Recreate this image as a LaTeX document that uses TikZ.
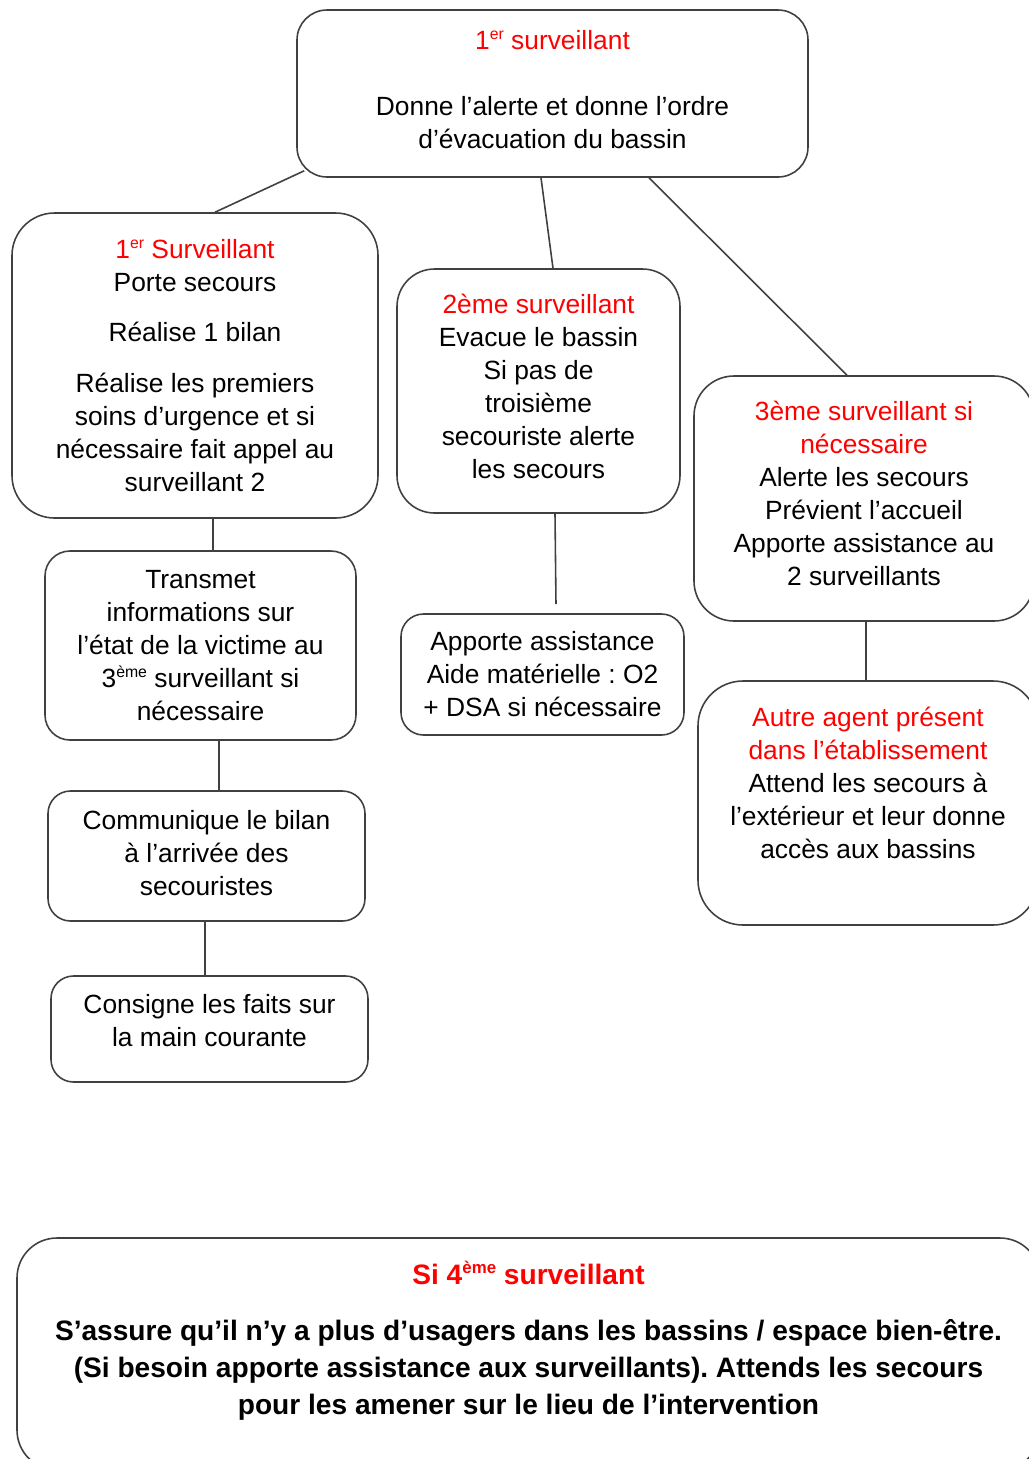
\documentclass[tikz,border=0pt]{standalone}
\usepackage{fontspec}
\setmainfont{Liberation Sans}
\usepackage{xcolor}
\usepackage{graphicx}
\usepackage{tikz}
\newcommand{\expo}[1]{\raisebox{0.38em}{\scalebox{0.6}{#1}}}
\frenchspacing

\begin{document}
\begin{tikzpicture}[x=0.2mm, y=-0.2mm,
  box/.style={draw=black!75, line width=0.9pt, rounded corners=7.5mm, align=center, inner sep=0pt,
    font=\fontsize{15pt}{18.8pt}\selectfont},
  smallbox/.style={box, rounded corners=4.5mm},
  boxsize/.style 2 args={minimum width=#1*0.2mm, minimum height=#2*0.2mm},
  link/.style={draw=black!75, line width=0.9pt}]
\useasboundingbox (0,0) rectangle (1029,1459);
\clip (0,0) rectangle (1029,1459);

\node[box, rounded corners=6mm, boxsize={511}{167}] (alerte) at (552.5,93.5)
  {\textcolor{red}{1\expo{er} surveillant}\\[18.8pt]Donne l’alerte et donne l’ordre\\d’évacuation du bassin\\[-14.3pt]~};

\node[box, rounded corners=8.5mm, boxsize={366}{305}] (porte) at (195,365.5)
  {\textcolor{red}{1\expo{er} Surveillant}\\Porte secours\\[10pt]Réalise 1 bilan\\[10pt]Réalise les premiers\\soins d’urgence et si\\nécessaire fait appel au\\surveillant 2};
\node[box, boxsize={283}{244}] (evacue) at (538.5,391)
  {\textcolor{red}{2ème surveillant}\\Evacue le bassin\\Si pas de\\troisième\\secouriste alerte\\les secours\\[-13.1pt]~};
\node[box, rounded corners=8mm, boxsize={340}{245}] (alerte3) at (864,498.5)
  {\textcolor{red}{3ème surveillant si}\\\textcolor{red}{nécessaire}\\Alerte les secours\\Prévient l’accueil\\Apporte assistance au\\2 surveillants\\[-12.5pt]~};

\node[smallbox, rounded corners=5mm, boxsize={311}{189}] (transmet) at (200.5,645.5)
  {Transmet\\informations sur\\l’état de la victime au\\3\expo{ème} surveillant si\\nécessaire};
\node[smallbox, boxsize={283}{121}] (assist) at (542.5,674.5)
  {Apporte assistance\\Aide matérielle : O2\\+ DSA si nécessaire};
\node[box, rounded corners=9mm, boxsize={340}{244}] (agent) at (868,803)
  {\textcolor{red}{Autre agent présent}\\\textcolor{red}{dans l’établissement}\\Attend les secours à\\l’extérieur et leur donne\\accès aux bassins\\[4.5pt]~};

\node[smallbox, boxsize={317}{130}] (bilan) at (206.5,856)
  {Communique le bilan\\à l’arrivée des\\secouristes\\[-14.8pt]~};
\node[smallbox, boxsize={317}{106}] (consigne) at (209.5,1029)
  {Consigne les faits sur\\la main courante\\[-9pt]~};

\node[box, rounded corners=8mm, boxsize={1023}{232}, font=\bfseries\fontsize{16pt}{21pt}\selectfont] (quatre) at (528.5,1354)
  {\textcolor{red}{Si 4\expo{ème} surveillant}\\[11pt]S’assure qu’il n’y a plus d’usagers dans les bassins / espace bien-être.\\(Si besoin apporte assistance aux surveillants). Attends les secours\\pour les amener sur le lieu de l’intervention\\[-2.6pt]~};

\draw[link] ([shift={(8,-7)}]alerte.south west) -- ([shift={(20,0)}]porte.north);
\draw[link] ([shift={(-11.5,0)}]alerte.south) -- ([shift={(14.5,0)}]evacue.north);
\draw[link] ([shift={(96.5,0)}]alerte.south) -- ([shift={(-17,0)}]alerte3.north);
\draw[link] (213,0 |- porte.south) -- (213,0 |- transmet.north);
\draw[link] (219,0 |- transmet.south) -- (219,0 |- bilan.north);
\draw[link] (205,0 |- bilan.south) -- (205,0 |- consigne.north);
\draw[link] (555,0 |- evacue.south) -- ([shift={(13.5,-9)}]assist.north);
\draw[link] (866,0 |- alerte3.south) -- (866,0 |- agent.north);
\end{tikzpicture}
\end{document}
